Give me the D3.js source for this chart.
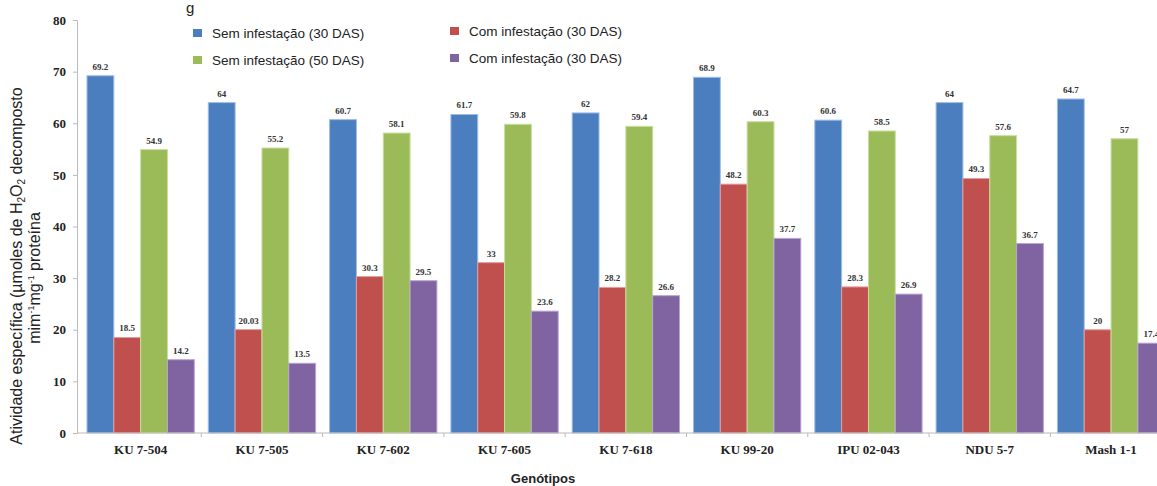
<!DOCTYPE html>
<html><head><meta charset="utf-8">
<script src="https://cdn.jsdelivr.net/npm/d3@7"></script>
<style>html,body{margin:0;padding:0;background:#fff;}svg{display:block;}</style>
</head><body>
<svg id="c" width="1157" height="486"></svg>
<script>
const categories = ["KU 7-504","KU 7-505","KU 7-602","KU 7-605","KU 7-618","KU 99-20","IPU 02-043","NDU 5-7","Mash 1-1"];
const seriesNames = ["Sem infestação (30 DAS)","Com infestação (30 DAS)","Sem infestação (50 DAS)","Com infestação (30 DAS)"];
const semInf30 = [69.2, 64, 60.7, 61.7, 62, 68.9, 60.6, 64, 64.7];
const comInf30 = [18.5, 20.03, 30.3, 33, 28.2, 48.2, 28.3, 49.3, 20];
const semInf50 = [54.9, 55.2, 58.1, 59.8, 59.4, 60.3, 58.5, 57.6, 57];
const comInf30b = [14.2, 13.5, 29.5, 23.6, 26.6, 37.7, 26.9, 36.7, 17.4];
const valueLabels = [
  ["69.2","64","60.7","61.7","62","68.9","60.6","64","64.7"],
  ["18.5","20.03","30.3","33","28.2","48.2","28.3","49.3","20"],
  ["54.9","55.2","58.1","59.8","59.4","60.3","58.5","57.6","57"],
  ["14.2","13.5","29.5","23.6","26.6","37.7","26.9","36.7","17.4"]
];
const yTicks = [0,10,20,30,40,50,60,70,80];
const colors = ["#4A7EBF","#C0504D","#9BBB59","#8064A2"];
const strokes = ["#9DBDE6","#E59C9A","#C9DE9E","#B7A4D2"];

const series = [semInf30, comInf30, semInf50, comInf30b];
const svg = d3.select("#c");

const x0 = d3.scaleBand().domain(categories).range([80, 80 + 9*121.3]).paddingInner(0).paddingOuter(0);
const x1 = d3.scaleBand().domain(d3.range(4)).range([7, 121.3 - 7]).padding(0);
const y = d3.scaleLinear().domain([0,80]).range([433,20]);

// bars
const g = svg.append("g");
categories.forEach((c,i)=>{
  series.forEach((s,k)=>{
    const bx = x0(c) + x1(k);
    g.append("rect")
      .attr("x", bx).attr("y", y(s[i]))
      .attr("width", x1.bandwidth()).attr("height", y(0)-y(s[i]))
      .attr("fill", colors[k]).attr("stroke", strokes[k]).attr("stroke-width", 1);
    g.append("text")
      .attr("x", bx + x1.bandwidth()/2).attr("y", y(s[i]) - 6)
      .attr("text-anchor","middle")
      .attr("font-family","Liberation Serif, Times New Roman, serif")
      .attr("font-weight","bold").attr("font-size", 9).attr("fill","#333")
      .text(valueLabels[k][i]);
  });
});

// y axis
const yAxis = d3.axisLeft(y).tickValues(yTicks).tickSize(4).tickPadding(7).tickFormat(d3.format("d"));
const ya = svg.append("g").attr("transform","translate(77,0)").call(yAxis);
ya.select(".domain").attr("stroke","#bbb");
ya.selectAll(".tick line").attr("stroke","#bbb");
ya.selectAll(".tick text").attr("font-family","Liberation Serif, Times New Roman, serif")
  .attr("font-weight","bold").attr("font-size",13).attr("fill","#222");

// x axis
const xa = svg.append("g").attr("transform","translate(0,433)");
xa.append("line").attr("x1",77).attr("x2",1157).attr("y1",0).attr("y2",0).attr("stroke","#bbb");
categories.forEach((c,i)=>{
  const bx = x0(c);
  if(i>0) xa.append("line").attr("x1",bx).attr("x2",bx).attr("y1",0).attr("y2",4).attr("stroke","#bbb");
  xa.append("text").attr("x", bx + x0.bandwidth()/2).attr("y", 21)
    .attr("text-anchor","middle")
    .attr("font-family","Liberation Serif, Times New Roman, serif")
    .attr("font-weight","bold").attr("font-size",13).attr("fill","#222").text(c);
});

// x title
svg.append("text").attr("x",543).attr("y",483).attr("text-anchor","middle")
  .attr("font-family","Liberation Sans, Arial, sans-serif").attr("font-weight","bold")
  .attr("font-size",13).attr("fill","#222").text("Genótipos");

// y title
const yt = svg.append("text").attr("transform","translate(22,266) rotate(-90)")
  .attr("text-anchor","middle").attr("font-family","Liberation Sans, Arial, sans-serif")
  .attr("font-size",16).attr("fill","#222");
const t1 = yt.append("tspan").attr("x",0).attr("y",0);
t1.append("tspan").text("Atividade específica (µmoles de H");
t1.append("tspan").attr("font-size",10).attr("dy",3).text("2");
t1.append("tspan").attr("dy",-3).text("O");
t1.append("tspan").attr("font-size",10).attr("dy",3).text("2");
t1.append("tspan").attr("dy",-3).text(" decomposto");
const t2 = yt.append("tspan").attr("x",-12).attr("y",18);
t2.append("tspan").text("mim");
t2.append("tspan").attr("font-size",9).attr("dy",-6).text("-1");
t2.append("tspan").attr("dy",6).text("mg");
t2.append("tspan").attr("font-size",9).attr("dy",-6).text("-1");
t2.append("tspan").attr("dy",6).text(" proteína");

// legend
const legendPos = [[193,33],[450,31],[193,60],[450,58]];
seriesNames.forEach((n,k)=>{
  const [lx,ly] = legendPos[k];
  svg.append("rect").attr("x",lx).attr("y",ly-4).attr("width",9).attr("height",8).attr("fill",colors[k]);
  svg.append("text").attr("x",lx+19).attr("y",ly+5)
    .attr("font-family","Liberation Sans, Arial, sans-serif").attr("font-size",13.5)
    .attr("fill","#222").text(n);
});

// caption glyph at top edge
svg.append("text").attr("x",186).attr("y",13).attr("font-family","Liberation Sans, Arial, sans-serif")
  .attr("font-size",15).attr("fill","#222").text("g");
</script>
</body></html>
